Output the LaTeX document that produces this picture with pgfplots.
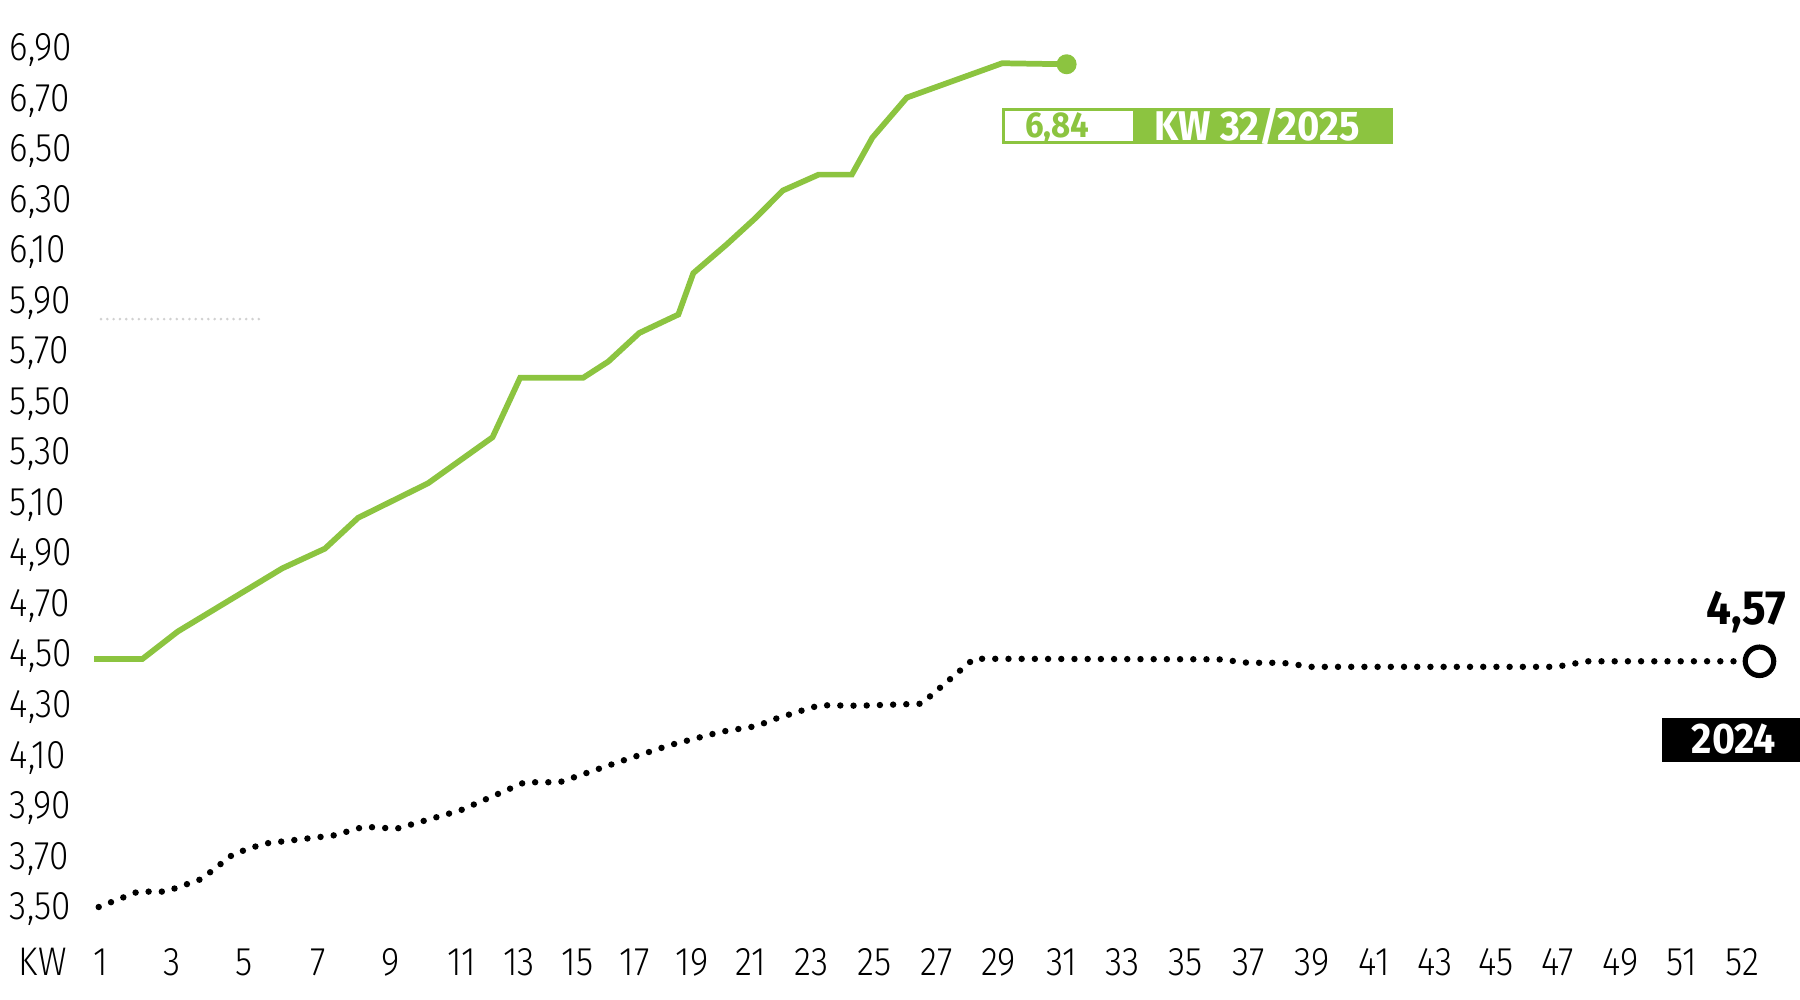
\documentclass[border=0pt]{standalone}
\usepackage{pgfplots}
\pgfplotsset{compat=1.18}
\usepackage{fontspec}
\newfontfamily\thinfont{Fira Sans Light}[FakeStretch=0.88]
\newfontfamily\boldfont{Fira Sans}[FakeStretch=0.92]
\definecolor{kgreen}{RGB}{140,196,64}
\begin{document}
\begin{tikzpicture}
\path[use as bounding box] (0,0) rectangle (156.8mm,87.1mm);
\begin{axis}[
  at={(5.765mm,6mm)}, anchor=south west,
  scale only axis, width=150.255mm, height=79.2mm,
  xmin=0, xmax=53, ymin=3.4, ymax=7.0,
  clip=false,
  axis line style={draw=none},
  tick style={draw=none},
  xtick={1.07,3.26,5.48,7.74,9.96,12.15,13.91,15.71,17.47,19.24,21.04,22.90,24.84,26.75,28.65,30.59,32.46,34.40,36.34,38.28,40.19,42.06,43.93,45.83,47.77,49.64,51.51},
  xticklabels={1,3,5,7,9,11,13,15,17,19,21,23,25,27,29,31,33,35,37,39,41,43,45,47,49,51,52},
  ytick={3.5,3.7,3.9,4.1,4.3,4.5,4.7,4.9,5.1,5.3,5.5,5.7,5.9,6.1,6.3,6.5,6.7,6.9},
  yticklabels={{3,50},{3,70},{3,90},{4,10},{4,30},{4,50},{4,70},{4,90},{5,10},{5,30},{5,50},{5,70},{5,90},{6,10},{6,30},{6,50},{6,70},{6,90}},
  ticklabel style={font=\thinfont\fontsize{9.9pt}{11pt}\selectfont, text=black, inner sep=0pt},
  xticklabel style={anchor=base, yshift=-3.9mm},
  yticklabel style={anchor=base west, xshift=-4.965mm, yshift=-1.2mm},
]
% faint remnant gridline
\addplot[black!18, line width=0.25mm, line cap=round, dash pattern=on 0pt off 0.55mm] coordinates {(1.07,5.823) (6.1,5.823)};
% 2024 (dotted black)
\addplot[black, line width=0.56mm, line cap=round, line join=round,
  dash pattern=on 0pt off 1.15mm] coordinates {
(1.00,3.495) (2.21,3.556) (3.06,3.556) (4.16,3.606) (5.14,3.705) (6.08,3.746)
(8.24,3.779) (9.15,3.813) (10.15,3.805) (12.12,3.878) (14.09,3.989) (15.16,3.989)
(17.11,4.075) (18.55,4.136) (20.13,4.189) (21.24,4.212) (21.69,4.236) (22.81,4.281)
(23.16,4.294) (24.34,4.292) (26.28,4.300) (27.89,4.478) (35.01,4.476) (35.40,4.476)
(35.87,4.469) (36.31,4.462) (37.37,4.462) (37.83,4.454) (38.25,4.446) (45.71,4.446)
(46.19,4.454) (46.64,4.468) (51.55,4.468)
};
% end circle 2024
\addplot[only marks, mark=*, mark size=1.24mm, mark options={draw=black, fill=white, line width=0.45mm}] coordinates {(52.03,4.468)};
% 2025 (green)
\addplot[kgreen, line width=0.5mm, line join=miter] coordinates {
(0.86,4.477) (2.34,4.477) (3.43,4.586) (6.64,4.836) (7.95,4.914) (8.97,5.036)
(11.12,5.173) (12.11,5.264) (13.10,5.355) (13.95,5.591) (15.89,5.591) (16.66,5.655)
(17.61,5.768) (18.81,5.841) (19.27,6.005) (20.29,6.118) (21.18,6.223) (22.02,6.332)
(23.12,6.395) (24.14,6.395) (24.77,6.541) (25.83,6.700) (28.76,6.836) (30.74,6.832)
};
\addplot[only marks, mark=*, mark size=0.8mm, kgreen] coordinates {(30.74,6.832)};
\end{axis}
% KW axis label
\node[anchor=base, inner sep=0pt, font=\thinfont\fontsize{9.9pt}{11pt}\selectfont] at (3.73mm,2.1mm) {KW};
% green label box
\fill[kgreen] (98.7mm,74.56mm) rectangle (121.37mm,77.66mm);
\draw[kgreen, line width=0.25mm] (87.38mm,74.69mm) rectangle (121.24mm,77.53mm);
\node[anchor=base, inner sep=0pt, text=kgreen, font=\boldfont\bfseries\fontsize{8.9pt}{10pt}\selectfont] at (92.1mm,75.1mm) {6,84};
\node[anchor=base, inner sep=0pt, text=white, font=\boldfont\bfseries\fontsize{10.3pt}{12pt}\selectfont] at (109.5mm,74.9mm) {KW 32/2025};
% 2024 label
\fill[black] (144.8mm,20.7mm) rectangle (156.8mm,24.53mm);
\node[anchor=base, inner sep=0pt, text=white, font=\boldfont\bfseries\fontsize{10.6pt}{12pt}\selectfont] at (151.04mm,21.45mm) {2024};
\node[anchor=base, inner sep=0pt, text=black, font=\boldfont\bfseries\fontsize{11.9pt}{13pt}\selectfont] at (152.1mm,32.7mm) {4,57};
\end{tikzpicture}
\end{document}
